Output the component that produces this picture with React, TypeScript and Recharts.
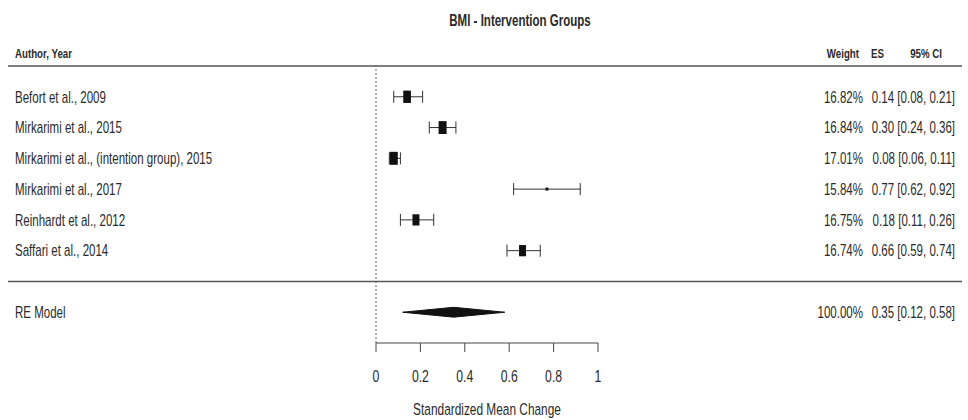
import {
  ComposedChart,
  Scatter,
  Area,
  XAxis,
  YAxis,
  ErrorBar,
  ReferenceLine,
} from "recharts";

// Study rows, top to bottom
const authors = [
  "Befort et al., 2009",
  "Mirkarimi et al., 2015",
  "Mirkarimi et al., (intention group), 2015",
  "Mirkarimi et al., 2017",
  "Reinhardt et al., 2012",
  "Saffari et al., 2014",
];
const weights = [16.82, 16.84, 17.01, 15.84, 16.75, 16.74];
const effects = [0.14, 0.3, 0.08, 0.77, 0.18, 0.66];
const ciLow = [0.08, 0.24, 0.06, 0.62, 0.11, 0.59];
const ciHigh = [0.21, 0.36, 0.11, 0.92, 0.26, 0.74];

// Random-effects summary
const reLabel = "RE Model";
const reWeight = 100;
const reEffect = 0.35;
const reLow = 0.12;
const reHigh = 0.58;

const xTicks = [0, 0.2, 0.4, 0.6, 0.8, 1];

const W = 968;
const H = 420;
const FONT = "'Liberation Sans', Arial, sans-serif";
const INK = "#2a2a2a";
const SQUEEZE = 0.72; // the source text is horizontally condensed

// row layout in plot units (metafor style: studies k..1, summary at -1)
const k = authors.length;
const studyData = authors.map((a, i) => ({
  x: effects[i],
  y: k - i,
  author: a,
  weight: weights[i],
  lo: ciLow[i],
  hi: ciHigh[i],
  err: [effects[i] - ciLow[i], ciHigh[i] - effects[i]],
}));
const summaryData = [
  { x: reEffect, y: -1, author: reLabel, weight: reWeight, lo: reLow, hi: reHigh },
];
const DIAMOND_H = 0.16;
const diamondData = [
  { x: reLow, band: [-1, -1] },
  { x: reEffect, band: [-1 - DIAMOND_H, -1 + DIAMOND_H] },
  { x: reHigh, band: [-1, -1] },
];
// top rule carries the header and the title, bottom rule separates the summary
const ruleData = [
  { x: 0, y: k + 1, top: true },
  { x: 0, y: 0, top: false },
];

const fmt = (v: number) => v.toFixed(2);

function NText({
  x,
  y,
  anchor = "start",
  size = 16,
  bold = false,
  children,
}: {
  x: number;
  y: number;
  anchor?: "start" | "middle" | "end";
  size?: number;
  bold?: boolean;
  children: React.ReactNode;
}) {
  return (
    <text
      transform={`translate(${x},${y}) scale(${SQUEEZE},1)`}
      textAnchor={anchor}
      dominantBaseline="central"
      fontSize={size}
      fontWeight={bold ? 700 : 400}
      fontFamily={FONT}
      fill={INK}
    >
      {children}
    </text>
  );
}

function RowText({ cy, payload }: any) {
  return (
    <g>
      <NText x={15} y={cy}>{payload.author}</NText>
      <NText x={863} y={cy} anchor="end">{`${fmt(payload.weight)}%`}</NText>
      <NText x={955} y={cy} anchor="end">
        {`${fmt(payload.x)} [${fmt(payload.lo)}, ${fmt(payload.hi)}]`}
      </NText>
    </g>
  );
}

function StudyMark(props: any) {
  const { cx, cy, payload } = props;
  // square size shrinks as the interval widens (precision)
  const h = Math.min(13, 3 + 55 * Math.max(0, 0.3 - (payload.hi - payload.lo)));
  const w = Math.max(3, h * 0.62);
  return (
    <g>
      <rect x={cx - w / 2} y={cy - h / 2} width={w} height={h} fill="#111" />
      <RowText cy={cy} payload={payload} />
    </g>
  );
}

function Rule({ cy, payload }: any) {
  const hy = cy - 13;
  return (
    <g>
      <line x1={8} x2={962} y1={cy} y2={cy} stroke="#555" strokeWidth={1.6} />
      {payload.top && (
        <g>
          <NText x={520} y={cy - 46} anchor="middle" size={16} bold>
            BMI - Intervention Groups
          </NText>
          <NText x={15} y={hy} size={13.5} bold>Author, Year</NText>
          <NText x={859} y={hy} anchor="end" size={13.5} bold>Weight</NText>
          <NText x={884} y={hy} anchor="end" size={13.5} bold>ES</NText>
          <NText x={942} y={hy} anchor="end" size={13.5} bold>95% CI</NText>
        </g>
      )}
    </g>
  );
}

function Tick({ x, y, payload }: any) {
  return (
    <NText x={x} y={y + 6.5} anchor="middle" size={17}>
      {String(payload.value)}
    </NText>
  );
}

function AxisTitle({ viewBox }: any) {
  return (
    <NText x={viewBox.x + viewBox.width / 2} y={viewBox.y + 66} anchor="middle" size={16.5}>
      Standardized Mean Change
    </NText>
  );
}

export default function App() {
  return (
    <div style={{ position: "absolute", left: 0, top: 0, width: W, height: H, background: "#fff" }}>
      <ComposedChart width={W} height={H} margin={{ top: 66, right: 370, bottom: 0, left: 376 }}>
        <XAxis
          type="number"
          dataKey="x"
          domain={[0, 1]}
          ticks={xTicks}
          interval={0}
          height={77}
          stroke="#444"
          tickSize={9}
          tickMargin={18}
          tick={<Tick />}
          label={{ content: (p: any) => <AxisTitle {...p} /> }}
        />
        <YAxis type="number" dataKey="y" domain={[-2, k + 1]} hide />
        <ReferenceLine x={0} stroke="#666" strokeDasharray="2 2" />
        <Scatter data={ruleData} shape={<Rule />} isAnimationActive={false} />
        <Area
          data={diamondData}
          dataKey="band"
          type="linear"
          stroke="#111"
          strokeWidth={1}
          fill="#111"
          fillOpacity={1}
          dot={false}
          activeDot={false}
          isAnimationActive={false}
        />
        <Scatter data={summaryData} shape={<RowText />} isAnimationActive={false} />
        <Scatter data={studyData} shape={<StudyMark />} isAnimationActive={false}>
          <ErrorBar dataKey="err" direction="x" width={6} stroke="#333" strokeWidth={1} />
        </Scatter>
      </ComposedChart>
    </div>
  );
}
